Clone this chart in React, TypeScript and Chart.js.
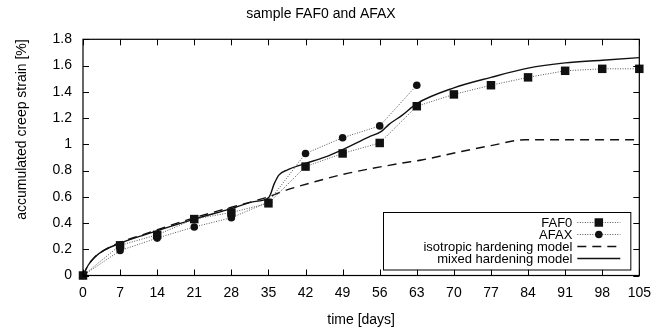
import React, { useEffect, useRef } from 'react';
import { Chart, registerables } from 'chart.js';

Chart.register(...registerables);

const FONT = '"Liberation Sans", Arial, Helvetica, sans-serif';

// ---- data ----
const days = [0, 7, 14, 21, 28, 35, 42, 49, 56, 63, 70, 77, 84, 91, 98, 105];
const faf0 = [0, 0.23, 0.31, 0.43, 0.48, 0.55, 0.83, 0.93, 1.01, 1.29, 1.38, 1.45, 1.51, 1.56, 1.575, 1.575];

const afaxDays = [0, 7, 14, 21, 28, 35, 42, 49, 56, 63];
const afax = [0, 0.19, 0.285, 0.37, 0.44, 0.56, 0.93, 1.05, 1.14, 1.45];

const isoDays = [0, 1, 2.2, 4.1, 6.6, 11.6, 21, 28, 35, 37.6, 43.9, 50.1, 60.1, 63.9, 71.4, 77, 83.5, 105];
const isoModel = [0, 0.08, 0.14, 0.195, 0.245, 0.315, 0.44, 0.52, 0.6, 0.64, 0.716, 0.78, 0.856, 0.88, 0.945, 0.99, 1.034, 1.034];

const mixedDays = [0, 1, 2.2, 4.1, 6.6, 11.6, 21, 28, 32.3, 35.1, 36.1, 37, 38.6, 41.7, 45.5, 49, 53.9, 56.4, 57.7, 60.2, 63, 70, 77, 84, 91, 98, 105];
const mixedModel = [0, 0.08, 0.14, 0.195, 0.24, 0.31, 0.43, 0.51, 0.563, 0.597, 0.7, 0.767, 0.805, 0.85, 0.9, 0.96, 1.055, 1.1, 1.15, 1.22, 1.31, 1.43, 1.51, 1.58, 1.62, 1.64, 1.66];

const seriesLabels = ['FAF0', 'AFAX', 'isotropic hardening model', 'mixed hardening model'];
const chartTitle = 'sample FAF0 and AFAX';
const xTitle = 'time [days]';
const yTitle = 'accumulated creep strain [%]';

const pts = (xs: number[], ys: number[]) => xs.map((x, i) => ({ x, y: ys[i] }));

const framePlugin = {
  id: 'gpFrame',
  afterDraw(chart: any) {
    const { ctx, chartArea } = chart;
    const { left, right, top, bottom } = chartArea;
    const xs = chart.scales.x;
    const ys = chart.scales.y;
    const tl = 6;
    ctx.save();
    ctx.strokeStyle = '#000';
    ctx.lineWidth = 1;
    ctx.beginPath();
    xs.ticks.forEach((t: any) => {
      const px = Math.round(xs.getPixelForValue(t.value)) + 0.5;
      ctx.moveTo(px, bottom);
      ctx.lineTo(px, bottom - tl);
      ctx.moveTo(px, top);
      ctx.lineTo(px, top + tl);
    });
    ys.ticks.forEach((t: any) => {
      const py = Math.round(ys.getPixelForValue(t.value)) + 0.5;
      ctx.moveTo(left, py);
      ctx.lineTo(left + tl, py);
      ctx.moveTo(right, py);
      ctx.lineTo(right - tl, py);
    });
    ctx.stroke();
    ctx.lineWidth = 1.2;
    ctx.strokeRect(left, top, right - left, bottom - top);

    // legend (gnuplot style: right aligned text, sample on the right)
    const bx0 = left + 300;
    const bx1 = right - 9;
    const by0 = bottom - 63.5;
    const by1 = bottom - 6;
    ctx.fillStyle = '#fff';
    ctx.fillRect(bx0, by0, bx1 - bx0, by1 - by0);
    ctx.lineWidth = 1;
    ctx.strokeStyle = '#000';
    ctx.strokeRect(bx0 + 0.5, by0 + 0.5, bx1 - bx0, by1 - by0);
    ctx.font = '13px ' + FONT;
    ctx.textAlign = 'right';
    ctx.textBaseline = 'middle';
    chart.data.datasets.forEach((ds: any, i: number) => {
      const y = by0 + 10.5 + i * 12;
      ctx.fillStyle = '#000';
      ctx.fillText(ds.label, bx1 - 58, y + 0.5);
      const sx0 = bx1 - 53;
      const sx1 = bx1 - 10;
      ctx.save();
      ctx.strokeStyle = ds.borderColor;
      ctx.lineWidth = ds.borderWidth;
      ctx.setLineDash(ds.borderDash || []);
      ctx.beginPath();
      ctx.moveTo(sx0, y);
      ctx.lineTo(sx1, y);
      ctx.stroke();
      ctx.restore();
      if (ds.pointRadius > 0) {
        ctx.fillStyle = ds.pointBackgroundColor;
        const cx = (sx0 + sx1) / 2;
        if (ds.pointStyle === 'rect') {
          const s = ds.pointRadius * Math.SQRT1_2;
          ctx.fillRect(cx - s, y - s, 2 * s, 2 * s);
        } else {
          ctx.beginPath();
          ctx.arc(cx, y, ds.pointRadius, 0, Math.PI * 2);
          ctx.fill();
        }
      }
    });
    ctx.restore();
  },
};

export default function App() {
  const ref = useRef<HTMLCanvasElement>(null);
  useEffect(() => {
    document.body.style.margin = '0';
    const font = { family: FONT, size: 14, weight: 'normal' as const };
    const chart = new Chart(ref.current!, {
      type: 'line',
      data: {
        datasets: [
          {
            label: seriesLabels[0],
            data: pts(days, faf0),
            borderColor: '#555',
            borderWidth: 1,
            borderDash: [1, 1.5],
            pointStyle: 'rect',
            pointRadius: 6,
            pointBackgroundColor: '#111',
            pointBorderWidth: 0,
            tension: 0,
            clip: false,
          },
          {
            label: seriesLabels[1],
            data: pts(afaxDays, afax),
            borderColor: '#555',
            borderWidth: 1,
            borderDash: [1, 1.5],
            pointStyle: 'circle',
            pointRadius: 3.8,
            pointBackgroundColor: '#111',
            pointBorderWidth: 0,
            tension: 0,
            clip: false,
          },
          {
            label: seriesLabels[2],
            data: pts(isoDays, isoModel),
            borderColor: '#111',
            borderWidth: 1.4,
            borderDash: [9, 6],
            pointRadius: 0,
            cubicInterpolationMode: 'monotone',
          },
          {
            label: seriesLabels[3],
            data: pts(mixedDays, mixedModel),
            borderColor: '#111',
            borderWidth: 1.4,
            pointRadius: 0,
            cubicInterpolationMode: 'monotone',
          },
        ] as any,
      },
      options: {
        responsive: false,
        animation: false,
        devicePixelRatio: 1,
        layout: { padding: { left: 0, right: 18, top: 0, bottom: 0 } },
        plugins: {
          legend: { display: false },
          tooltip: { enabled: false },
          title: {
            display: true,
            text: chartTitle,
            color: '#000',
            font,
            padding: { top: 5.6, bottom: 16.9 },
          },
        },
        scales: {
          x: {
            type: 'linear',
            min: 0,
            max: 105,
            ticks: { stepSize: 7, color: '#000', font, padding: 9, autoSkip: false, maxRotation: 0 },
            grid: { drawOnChartArea: false, drawTicks: false },
            border: { display: false },
            title: { display: true, text: xTitle, color: '#000', font, padding: { top: 0, bottom: 4.6 } },
            afterFit: (s: any) => {
              s.height = 57.5;
            },
          },
          y: {
            type: 'linear',
            min: 0,
            max: 1.8,
            ticks: {
              stepSize: 0.2,
              color: '#000',
              font,
              padding: 11,
              callback: (v: any) => String(Math.round(Number(v) * 10) / 10),
            },
            grid: { drawOnChartArea: false, drawTicks: false },
            border: { display: false },
            title: { display: true, text: yTitle, color: '#000', font, align: 'end', padding: { top: 13.6, bottom: 0 } },
            afterFit: (s: any) => {
              s.width = 83;
            },
          },
        },
      },
      plugins: [framePlugin],
    });
    return () => chart.destroy();
  }, []);
  return <canvas ref={ref} width={660} height={333} style={{ display: 'block', width: 660, height: 333 }} />;
}
